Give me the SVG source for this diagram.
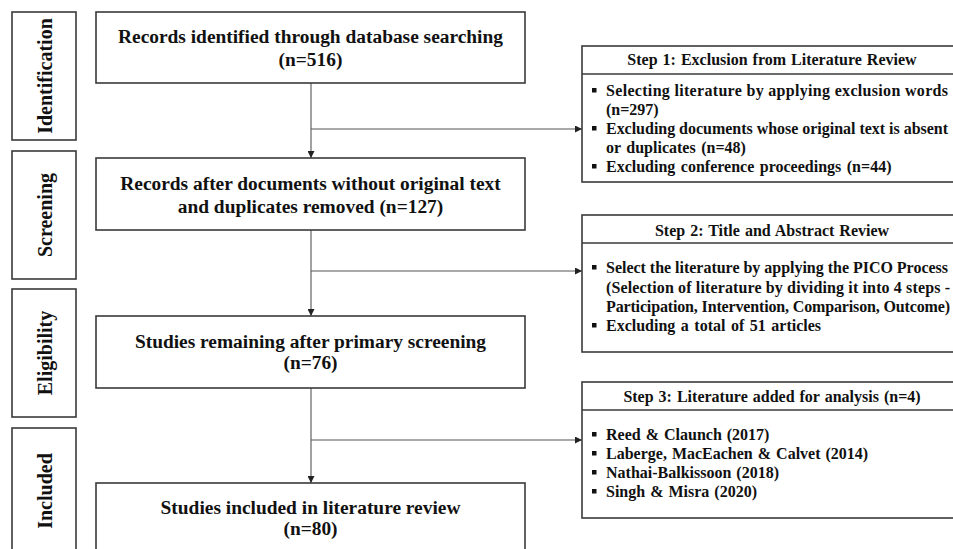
<svg xmlns="http://www.w3.org/2000/svg" width="953" height="549" viewBox="0 0 953 549">
<defs>
<style>
.box{fill:#fff;stroke:#3a3a3a;stroke-width:1.6}
.phase{fill:#fff;stroke:#3a3a3a;stroke-width:1.6}
.t{font-family:"Liberation Serif","Times New Roman",serif;font-weight:bold;fill:#111}
.main{font-size:19.4px;text-anchor:middle}
.ph{font-size:20px;text-anchor:middle;dominant-baseline:central}
.hd{font-size:16px;text-anchor:middle;word-spacing:1px}
.it{font-size:16px}
.con{fill:none;stroke:#555;stroke-width:1.1}
.bul{fill:#111}
</style>
<marker id="ah" viewBox="0 0 10 10" refX="10" refY="5" markerWidth="7" markerHeight="7" markerUnits="userSpaceOnUse" orient="auto">
<path d="M0,0 L10,5 L0,10 z" fill="#222"/>
</marker>
</defs>

<g id="phase-identification">
<rect class="phase" x="12" y="12" width="64" height="128"/>
<text class="t ph" transform="translate(45,76) rotate(-90)">Identification</text>
</g>
<g id="phase-screening">
<rect class="phase" x="12" y="151" width="64" height="128"/>
<text class="t ph" transform="translate(45,215) rotate(-90)">Screening</text>
</g>
<g id="phase-eligibility">
<rect class="phase" x="12" y="289" width="64" height="128"/>
<text class="t ph" transform="translate(45,353) rotate(-90)">Eligibility</text>
</g>
<g id="phase-included">
<rect class="phase" x="12" y="428" width="64" height="130"/>
<text class="t ph" transform="translate(45,491) rotate(-90)">Included</text>
</g>

<g id="connectors">
<path class="con" d="M311,83 V158" marker-end="url(#ah)"/>
<path class="con" d="M311,129 H582" marker-end="url(#ah)"/>
<path class="con" d="M311,230 V316" marker-end="url(#ah)"/>
<path class="con" d="M311,271 H582" marker-end="url(#ah)"/>
<path class="con" d="M311,388 V483" marker-end="url(#ah)"/>
<path class="con" d="M311,440 H582" marker-end="url(#ah)"/>
</g>

<g id="box1">
<rect class="box" x="96" y="12" width="429" height="71"/>
<text class="t main" x="310.5" y="43">Records identified through database searching</text>
<text class="t main" x="310.5" y="66">(n=516)</text>
</g>
<g id="box2">
<rect class="box" x="96" y="158" width="429" height="72"/>
<text class="t main" x="310.5" y="190">Records after documents without original text</text>
<text class="t main" x="310.5" y="213">and duplicates removed (n=127)</text>
</g>
<g id="box3">
<rect class="box" x="96" y="316" width="429" height="72"/>
<text class="t main" x="310.5" y="348">Studies remaining after primary screening</text>
<text class="t main" x="310.5" y="369">(n=76)</text>
</g>
<g id="box4">
<rect class="box" x="96" y="483" width="429" height="80"/>
<text class="t main" x="310.5" y="514">Studies included in literature review</text>
<text class="t main" x="310.5" y="535">(n=80)</text>
</g>

<g id="step1">
<rect class="box" x="582" y="46" width="380" height="136"/>
<line class="box" x1="582" y1="74" x2="962" y2="74"/>
<text class="t hd" x="772" y="65">Step 1: Exclusion from Literature Review</text>
<rect class="bul" x="592" y="88" width="4.5" height="4.5"/>
<text class="t it" x="606" y="96" textLength="342" lengthAdjust="spacing">Selecting literature by applying exclusion words</text>
<text class="t it" x="606" y="115">(n=297)</text>
<rect class="bul" x="592" y="126" width="4.5" height="4.5"/>
<text class="t it" x="606" y="134" textLength="342" lengthAdjust="spacing">Excluding documents whose original text is absent</text>
<text class="t it" x="606" y="153" style="word-spacing:1.5px">or duplicates (n=48)</text>
<rect class="bul" x="592" y="164" width="4.5" height="4.5"/>
<text class="t it" x="606" y="172" style="word-spacing:1.5px">Excluding conference proceedings (n=44)</text>
</g>

<g id="step2">
<rect class="box" x="582" y="215" width="380" height="137"/>
<line class="box" x1="582" y1="243" x2="962" y2="243"/>
<text class="t hd" x="772" y="236">Step 2: Title and Abstract Review</text>
<rect class="bul" x="592" y="265" width="4.5" height="4.5"/>
<text class="t it" x="606" y="273" textLength="342" lengthAdjust="spacing">Select the literature by applying the PICO Process</text>
<text class="t it" x="606" y="293" textLength="344" lengthAdjust="spacing">(Selection of literature by dividing it into 4 steps  -</text>
<text class="t it" x="606" y="312" textLength="344" lengthAdjust="spacing">Participation, Intervention, Comparison, Outcome)</text>
<rect class="bul" x="592" y="323" width="4.5" height="4.5"/>
<text class="t it" x="606" y="331" style="word-spacing:1.5px">Excluding a total of 51 articles</text>
</g>

<g id="step3">
<rect class="box" x="582" y="382" width="380" height="136"/>
<line class="box" x1="582" y1="410" x2="962" y2="410"/>
<text class="t hd" x="772" y="402">Step 3: Literature added for analysis (n=4)</text>
<rect class="bul" x="592" y="432" width="4.5" height="4.5"/>
<text class="t it" x="606" y="440" style="word-spacing:1px">Reed &amp; Claunch (2017)</text>
<rect class="bul" x="592" y="451" width="4.5" height="4.5"/>
<text class="t it" x="606" y="459" style="word-spacing:1px">Laberge, MacEachen &amp; Calvet (2014)</text>
<rect class="bul" x="592" y="470" width="4.5" height="4.5"/>
<text class="t it" x="606" y="478" style="word-spacing:1px">Nathai-Balkissoon (2018)</text>
<rect class="bul" x="592" y="489" width="4.5" height="4.5"/>
<text class="t it" x="606" y="497" style="word-spacing:1px">Singh &amp; Misra (2020)</text>
</g>
</svg>
